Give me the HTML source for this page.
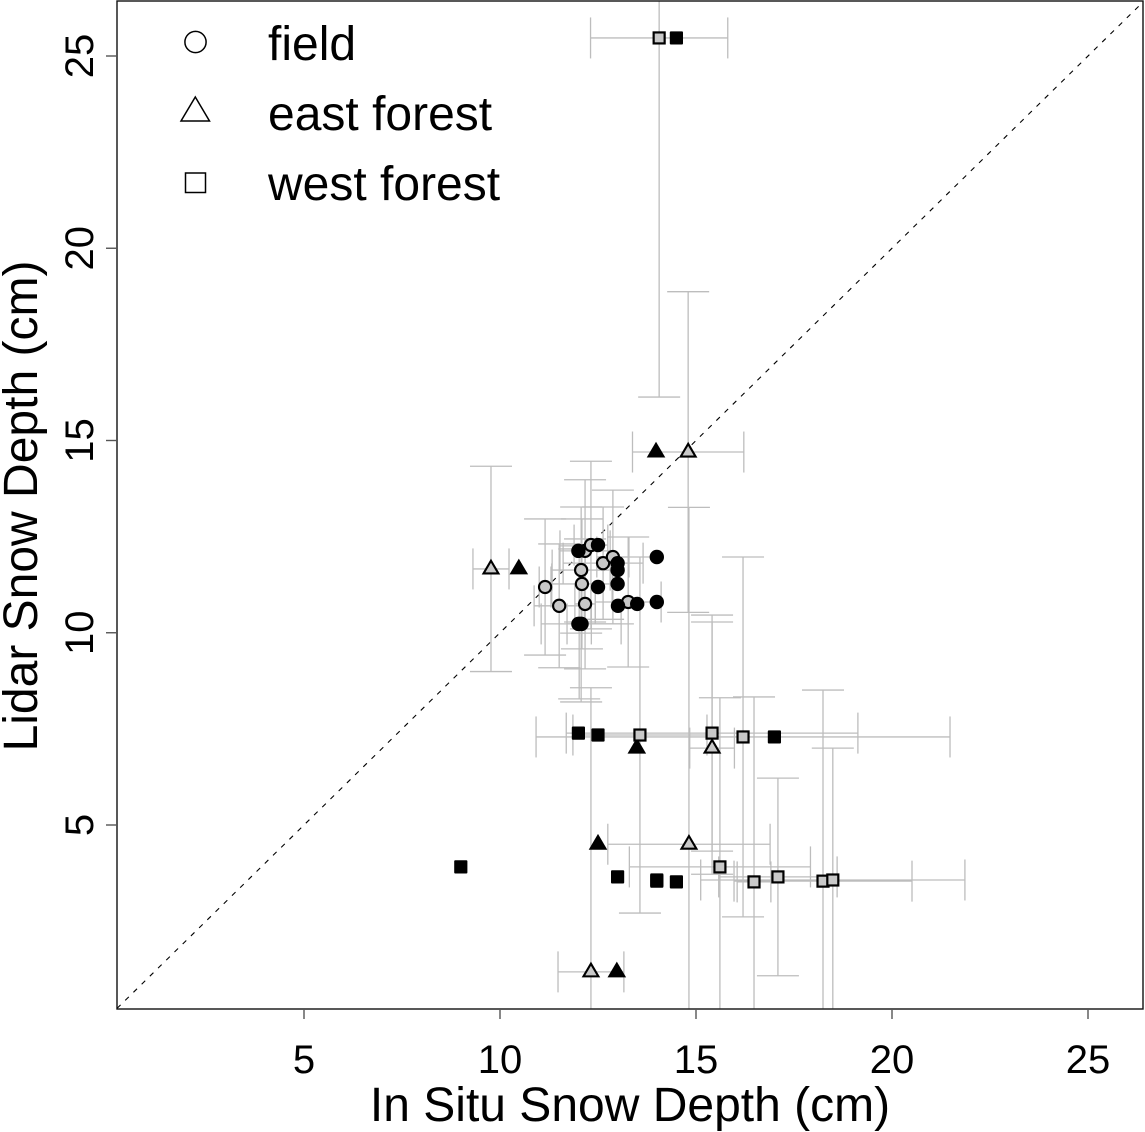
<!DOCTYPE html>
<html lang="en">
<head>
<meta charset="utf-8">
<title>Lidar vs In Situ Snow Depth</title>
<style>
  html, body { margin: 0; padding: 0; background: #fff; }
  svg { display: block; font-family: "Liberation Sans", Arial, sans-serif; }
</style>
</head>
<body>
<svg id="chart" xmlns="http://www.w3.org/2000/svg" width="1145" height="1132" viewBox="0 0 1145 1132">
  <defs>
    <clipPath id="plot-clip"><rect x="117" y="1" width="1026" height="1008"></rect></clipPath>
  </defs>
  <rect x="0" y="0" width="1145" height="1132" fill="#fff"></rect>
  <line id="identity-line" stroke="#000" stroke-width="1.1" stroke-dasharray="5 6.5" clip-path="url(#plot-clip)"></line>
  <g id="bars" clip-path="url(#plot-clip)"></g>
  <g id="marks" clip-path="url(#plot-clip)"></g>
  <rect x="117" y="1" width="1026" height="1008" fill="none" stroke="#111" stroke-width="1.4"></rect>
  <g id="axes"></g>
  <text x="630" y="1121" font-size="48" text-anchor="middle" fill="#000">In Situ Snow Depth (cm)</text>
  <text transform="translate(37,506) rotate(-90)" font-size="48" text-anchor="middle" fill="#000">Lidar Snow Depth (cm)</text>
  <g>
    <g>
      <circle cx="195.5" cy="42" r="10.6" fill="none" stroke="#000" stroke-width="1.5"></circle>
      <text x="268" y="60" font-size="48" fill="#000">field</text>
    </g>
    <g>
      <polygon points="195.3,97 209.5,121 181,121" fill="none" stroke="#000" stroke-width="1.5"></polygon>
      <text x="268" y="130" font-size="48" fill="#000">east forest</text>
    </g>
    <g>
      <rect x="185.5" y="173" width="20" height="19.5" fill="none" stroke="#000" stroke-width="1.5"></rect>
      <text x="268" y="200" font-size="48" fill="#000">west forest</text>
    </g>
  </g>
</svg>
<script>
// Axis tick labels
var xTicks = [5, 10, 15, 20, 25];
var yTicks = [5, 10, 15, 20, 25];

// Field site (circles)
var fieldLidar   = [11.19, 10.70, 11.63, 11.27, 10.75, 12.13, 12.28, 11.81, 11.97, 10.80, 10.23, 10.23];
var fieldGrayX   = [11.15, 11.51, 12.07, 12.09, 12.17, 12.17, 12.32, 12.63, 12.88, 13.27, 12.02, 12.07];
var fieldBlackX  = [12.50, 13.01, 13.00, 13.00, 13.50, 12.00, 12.50, 13.00, 14.00, 14.00, 12.00, 12.08];
var fieldXErr    = [0.15, 0.64, 0.74, 0.77, 0.26, 0.64, 0.43, 1.02, 0.41, 0.84, 0.31, 1.02];
var fieldYErr    = [1.77, 1.61, 1.64, 1.69, 1.69, 1.85, 2.18, 1.46, 1.74, 1.69, 1.95, 2.03];

// East forest (triangles)
var eastLidar    = [14.70, 11.66, 7.00, 4.50, 1.18];
var eastGrayX    = [14.80, 9.77, 15.41, 14.82, 12.32];
var eastBlackX   = [13.98, 10.48, 13.49, 12.50, 12.98];
var eastXErr     = [1.42, 0.46, 0.57, 2.07, 0.84];
var eastYErr     = [4.17, 2.67, 3.28, 8.76, 7.39];

// West forest (squares)
var westLidar    = [25.47, 7.39, 7.34, 7.29, 3.91, 3.52, 3.65, 3.54, 3.57];
var westGrayX    = [14.06, 15.41, 13.57, 16.20, 15.61, 16.48, 17.09, 18.24, 18.49];
var westBlackX   = [14.50, 12.00, 12.50, 17.00, 9.00, 14.50, 13.00, 14.00, 14.00];
var westXErr     = [1.75, 3.72, 1.71, 5.28, 2.31, 0.43, 1.51, 2.27, 3.37];
var westYErr     = [9.34, 3.07, 4.63, 4.68, 4.40, 4.81, 2.57, 4.97, 3.43];

// Visible axis limits of the plot window
var axisMin = 0.23;
var axisMax = 26.42;

var SVGNS = 'http://www.w3.org/2000/svg';
function xScale(v) { return 304 + (v - 5) * 39.2; }
function yScale(v) { return 825 - (v - 5) * 38.45; }

var barsG = document.getElementById('bars');
var marksG = document.getElementById('marks');
var axesG = document.getElementById('axes');

function make(tag, attrs, parent) {
  var el = document.createElementNS(SVGNS, tag);
  for (var k in attrs) { el.setAttribute(k, attrs[k]); }
  parent.appendChild(el);
  return el;
}

// identity line
var identity = document.getElementById('identity-line');
identity.setAttribute('x1', xScale(axisMin));
identity.setAttribute('y1', yScale(axisMin));
identity.setAttribute('x2', xScale(axisMax));
identity.setAttribute('y2', yScale(axisMax));

function errorBars(xs, ys, xe, ye, group) {
  var capX = 21, capY = 20.5;
  for (var i = 0; i < xs.length; i++) {
    var px = xScale(xs[i]), py = yScale(ys[i]);
    var hi = ys[i] + ye[i], lo = ys[i] - ye[i];
    var segs = [
      [px, yScale(Math.min(hi, axisMax)), px, yScale(Math.max(lo, axisMin))],
      [xScale(xs[i] - xe[i]), py, xScale(xs[i] + xe[i]), py],
      [xScale(xs[i] - xe[i]), py - capY, xScale(xs[i] - xe[i]), py + capY],
      [xScale(xs[i] + xe[i]), py - capY, xScale(xs[i] + xe[i]), py + capY]
    ];
    if (hi <= axisMax) { segs.push([px - capX, yScale(hi), px + capX, yScale(hi)]); }
    if (lo >= axisMin) { segs.push([px - capX, yScale(lo), px + capX, yScale(lo)]); }
    for (var s = 0; s < segs.length; s++) {
      var ln = make('line', { x1: segs[s][0], y1: segs[s][1], x2: segs[s][2], y2: segs[s][3], stroke: '#bdbdbd', 'stroke-width': 1.3 }, barsG);
      
      
    }
  }
}

function circleMark(x, y, gray) {
  var c = make('circle', {
    cx: xScale(x), cy: yScale(y), r: gray ? 6.1 : 7.2,
    fill: gray ? '#c8c8c8' : '#000', stroke: gray ? '#000' : 'none', 'stroke-width': 2.1
  }, marksG);
  
  
}

function triangleMark(x, y, gray) {
  var px = xScale(x), py = yScale(y);
  var top = gray ? py - 8.2 : py - 10.3;
  var half = gray ? 7.45 : 9.3;
  var base = gray ? py + 4.5 : py + 5.5;
  var t = make('polygon', {
    points: px + ',' + top + ' ' + (px + half) + ',' + base + ' ' + (px - half) + ',' + base,
    fill: gray ? '#c8c8c8' : '#000', stroke: gray ? '#000' : 'none', 'stroke-width': 2.1, 'stroke-linejoin': 'miter'
  }, marksG);
  
  
}

function squareMark(x, y, gray) {
  var px = xScale(x), py = yScale(y);
  var size = gray ? 11 : 13.2;
  var r = make('rect', {
    x: px - size / 2, y: py - size / 2, width: size, height: size, rx: gray ? 0 : 1,
    fill: gray ? '#c8c8c8' : '#000', stroke: gray ? '#000' : 'none', 'stroke-width': 2.2
  }, marksG);
  
  
}

function drawSeries(xs, blacks, ys, markFn) {
  var i;
  for (i = 0; i < ys.length; i++) { markFn(xs[i], ys[i], true); }
  for (i = 0; i < ys.length; i++) { markFn(blacks[i], ys[i], false); }
}

errorBars(fieldGrayX, fieldLidar, fieldXErr, fieldYErr, 'field');
errorBars(eastGrayX, eastLidar, eastXErr, eastYErr, 'east-forest');
errorBars(westGrayX, westLidar, westXErr, westYErr, 'west-forest');
drawSeries(fieldGrayX, fieldBlackX, fieldLidar, circleMark);
drawSeries(eastGrayX, eastBlackX, eastLidar, triangleMark);
drawSeries(westGrayX, westBlackX, westLidar, squareMark);

// axes
xTicks.forEach(function (t) {
  var px = xScale(t);
  var tk = make('line', { x1: px, y1: 1009, x2: px, y2: 1019, stroke: '#555', 'stroke-width': 1.4 }, axesG);
  
  
  var lb = make('text', { x: px, y: 1073, 'font-size': 40, 'text-anchor': 'middle', fill: '#000' }, axesG);
  
  
  lb.textContent = t;
});
yTicks.forEach(function (t) {
  var py = yScale(t);
  var tk = make('line', { x1: 106, y1: py, x2: 117, y2: py, stroke: '#555', 'stroke-width': 1.4 }, axesG);
  
  
  var lb = make('text', { transform: 'translate(93,' + py + ') rotate(-90)', 'font-size': 40, 'text-anchor': 'middle', fill: '#000' }, axesG);
  
  
  lb.textContent = t;
});
</script>
</body>
</html>
